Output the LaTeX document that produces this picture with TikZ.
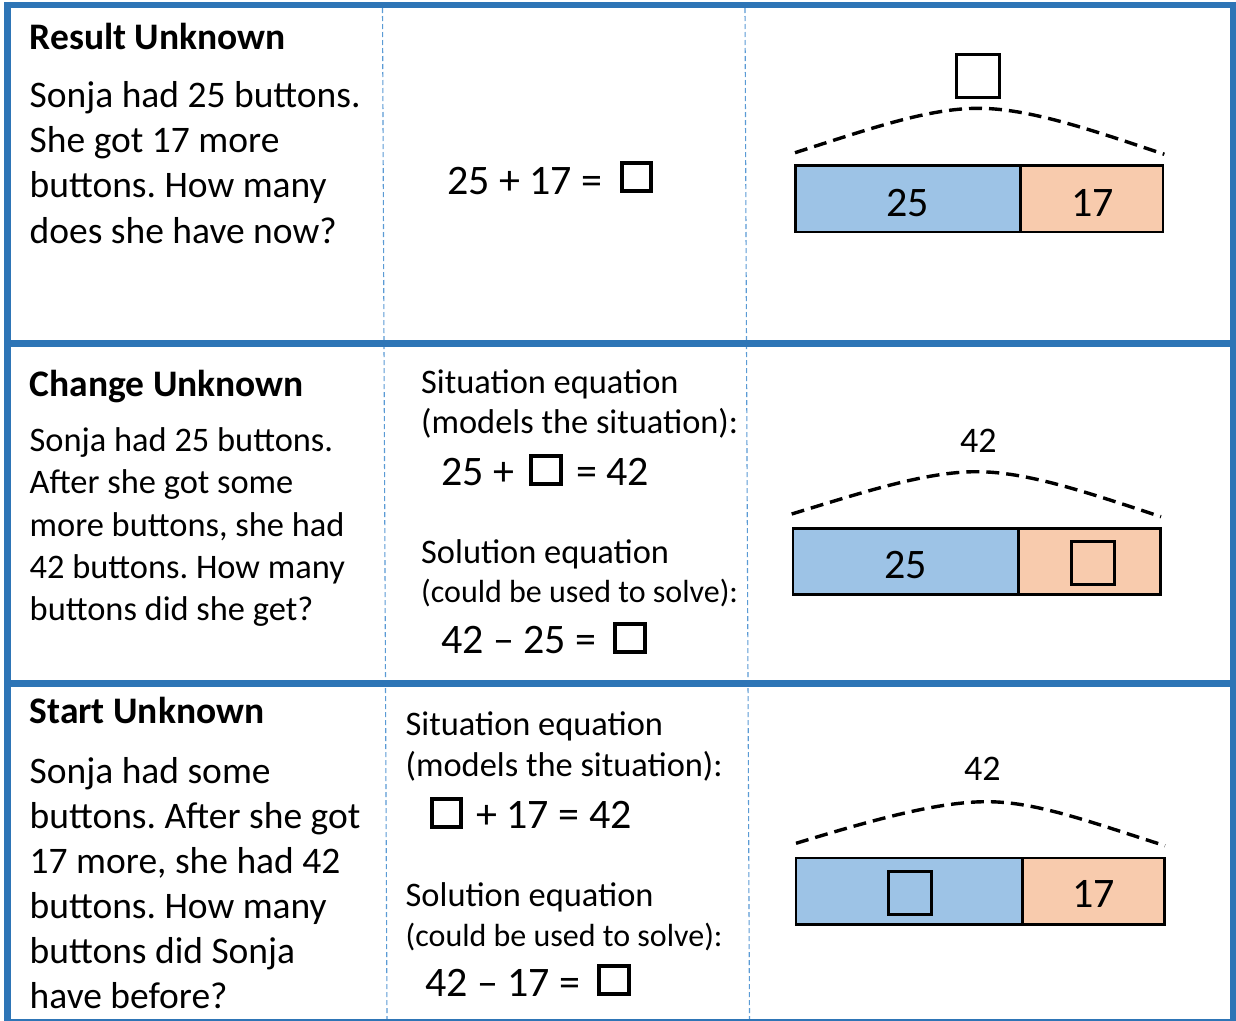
\documentclass[tikz,border=0pt]{standalone}
\usepackage{fontspec}
\setmainfont{Carlito}
\usetikzlibrary{fit}
\definecolor{border}{HTML}{2E75B6}
\definecolor{guide}{HTML}{5B9BD5}
\definecolor{barblue}{HTML}{9DC3E6}
\definecolor{barorange}{HTML}{F8CBAD}
\frenchspacing
\begin{document}
\begin{tikzpicture}[x=1pt,y=-1pt,
  title/.style={anchor=base west,inner sep=0,font=\fontsize{37.5}{44}\selectfont\bfseries},
  bodyL/.style={anchor=base west,inner sep=0,font=\fontsize{37.5}{44}\selectfont},
  bodyS/.style={anchor=base west,inner sep=0,font=\fontsize{34.4}{42}\selectfont},
  bodyN/.style={anchor=base west,inner sep=0,font=\fontsize{32}{40}\selectfont},
  eqtext/.style={anchor=base west,inner sep=0,font=\fontsize{42}{48}\selectfont},
  numlbl/.style={anchor=base,inner sep=0,font=\fontsize{42}{50}\selectfont},
  totlbl/.style={anchor=base,inner sep=0,font=\fontsize{36}{44}\selectfont},
  eqbox/.style={draw,line width=4,minimum width=29.5,minimum height=28,inner sep=0},
  barbox/.style={draw,line width=3,minimum width=43,minimum height=43,inner sep=0},
  bluecell/.style={draw,line width=2.5,fill=barblue,inner sep=0},
  orangecell/.style={draw,line width=2.5,fill=barorange,inner sep=0},
  arc/.style={line width=3.4,dash pattern=on 13pt off 7pt},
  frame/.style={draw=border,line width=7},
  guideline/.style={draw=guide,line width=1.1,dash pattern=on 5pt off 3pt}
]
\useasboundingbox (0,0) rectangle (1236,1020);
\fill[white] (0,0) rectangle (1236,1020);

% dashed column guides
\coordinate (g1t) at (382.5,8);
\coordinate (g1b) at (387,1020);
\coordinate (g2t) at (745,8);
\coordinate (g2b) at (749.5,1020);
\draw[guideline] (g1t) -- (g1b);
\draw[guideline] (g2t) -- (g2b);

% frame
\draw[frame,line width=6.5] (4,5) -- (1236,5);
\draw[frame] (7.5,1.75) -- (7.5,1020);
\draw[frame,line width=6] (1233,1.75) -- (1233,1020);
\draw[frame] (4,343.5) -- (1236,343.5);
\draw[frame] (4,683.5) -- (1236,683.5);
\draw[frame,line width=2] (4,1019.5) -- (1236,1019.5);

% ---------- Row 1 ----------
\node[title] (t1) at (29.5,49.3) {Result Unknown};
\foreach \t [count=\i from 0] in {Sonja had 25 buttons., She got 17 more, buttons. How many, does she have now?}
  \node[bodyL] (a\i) at (29.5,{107.3+45.3*\i}) {\t};

\node[eqtext] (e1) at (447,194) {25 + 17 =};
\node[eqbox] (e1box) at (636.3,177.4) {};

\coordinate (b1a) at (795.5,165.5);
\coordinate (b1b) at (1020.7,232);
\coordinate (b1c) at (1163,165.5);
\node[bluecell,fit={(b1a)(b1b)}] (blue1) {};
\node[orangecell,fit={(b1b)(b1c)}] (orange1) {};
\node[numlbl] (n25a) at (907.5,216.7) {25};
\node[numlbl] (n17a) at (1092.5,216.7) {17};
\node[barbox] (tot1) at (977.5,76.3) {};
\coordinate (s1) at (795,152.7);
\coordinate (p1) at (978.3,108.3);
\coordinate (f1) at (1164.3,154.3);
\draw[arc] (s1) .. controls (870,128.7) and (928,108.3) .. (p1)
                .. controls (1028,108.3) and (1089,129) .. (f1);

% ---------- Row 2 ----------
\node[title] (t2) at (29.5,396.7) {Change Unknown};
\foreach \t [count=\i from 0] in {Sonja had 25 buttons., After she got some, {more buttons, she had}, 42 buttons. How many, buttons did she get?}
  \node[bodyS] (b\i) at (29.5,{451.7+42.25*\i}) {\t};

\node[bodyS] (s2a) at (421,393.3) {Situation equation};
\node[bodyS] (s2b) at (421,433.5) {(models the situation):};
\node[eqtext] (e2a) at (441,485) {25 +};
\node[eqbox] (e2abox) at (545.8,469.8) {};
\node[eqtext] (e2a2) at (576,485) {= 42};
\node[bodyS] (s2c) at (421,563.3) {Solution equation};
\node[bodyN] (s2d) at (421,602) {(could be used to solve):};
\node[eqtext] (e2b) at (441,653.3) {42 – 25 =};
\node[eqbox] (e2bbox) at (630,637.7) {};

\coordinate (b2a) at (792.9,528.5);
\coordinate (b2b) at (1018.3,594.5);
\coordinate (b2c) at (1160.5,528.5);
\node[bluecell,fit={(b2a)(b2b)}] (blue2) {};
\node[orangecell,fit={(b2b)(b2c)}] (orange2) {};
\node[numlbl] (n25b) at (905.6,578.3) {25};
\node[barbox] (unk2) at (1092.5,563) {};
\node[totlbl] (n42b) at (978.3,452.7) {42};
\coordinate (s2) at (791.7,514);
\coordinate (p2) at (976.7,471.7);
\coordinate (f2) at (1161,516.7);
\draw[arc] (s2) .. controls (866.7,491) and (926.7,471.7) .. (p2)
                .. controls (1026.7,471.7) and (1086,492) .. (f2);

% ---------- Row 3 ----------
\node[title] (t3) at (29.5,723) {Start Unknown};
\foreach \t [count=\i from 0] in {Sonja had some, buttons. After she got, {17 more, she had 42}, buttons. How many, buttons did Sonja, have before?}
  \node[bodyL] (c\i) at (29.5,{783+45.05*\i}) {\t};

\node[bodyS] (s3a) at (405.5,735) {Situation equation};
\node[bodyS] (s3b) at (405.5,776) {(models the situation):};
\node[eqbox] (e3abox) at (446.7,812.5) {};
\node[eqtext] (e3a) at (476,828) {+ 17 = 42};
\node[bodyS] (s3c) at (405.5,906.7) {Solution equation};
\node[bodyN] (s3d) at (405.5,946) {(could be used to solve):};
\node[eqtext] (e3b) at (425,996) {42 – 17 =};
\node[eqbox] (e3bbox) at (614,980.3) {};

\coordinate (b3a) at (796.2,857.9);
\coordinate (b3b) at (1022.3,924.5);
\coordinate (b3c) at (1164.5,857.9);
\node[bluecell,fit={(b3a)(b3b)}] (blue3) {};
\node[orangecell,fit={(b3b)(b3c)}] (orange3) {};
\node[barbox] (unk3) at (910.3,892.5) {};
\node[numlbl] (n17c) at (1093.4,907.3) {17};
\node[totlbl] (n42c) at (982.3,780.7) {42};
\coordinate (s3) at (796,843.3);
\coordinate (p3) at (986.7,801.7);
\coordinate (f3) at (1165,845.7);
\draw[arc] (s3) .. controls (871,820.5) and (936.7,801.7) .. (p3)
                .. controls (1036.7,801.7) and (1090,822) .. (f3);
\end{tikzpicture}
\end{document}
